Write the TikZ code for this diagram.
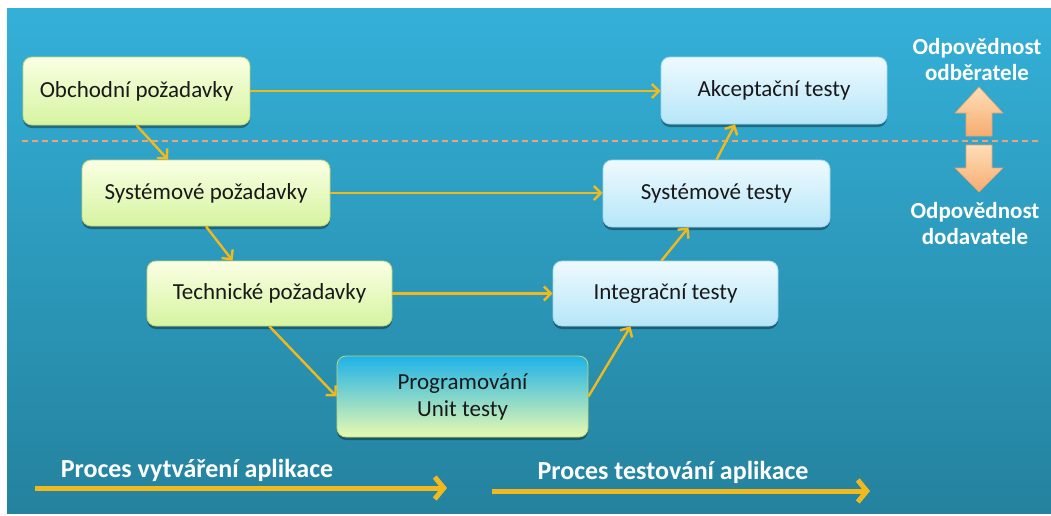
\documentclass[tikz,border=0pt]{standalone}
\usepackage{fontspec}
\setmainfont{Carlito}
\usetikzlibrary{arrows.meta,shadows,calc}
\definecolor{bgtop}{RGB}{52,176,216}
\definecolor{bgbot}{RGB}{36,130,158}
\definecolor{arr}{RGB}{240,186,30}
\definecolor{gtop}{RGB}{250,255,228}
\definecolor{gbot}{RGB}{214,244,160}
\definecolor{gborder}{RGB}{196,214,120}
\definecolor{btop}{RGB}{238,250,255}
\definecolor{bbot}{RGB}{182,230,248}
\definecolor{bborder}{RGB}{160,215,240}
\definecolor{ptop}{RGB}{30,178,232}
\definecolor{pmid}{RGB}{190,236,205}
\definecolor{pbot}{RGB}{232,250,176}
\definecolor{txt}{RGB}{25,25,25}
\definecolor{dashcol}{RGB}{232,165,125}
\definecolor{otop}{RGB}{255,222,184}
\definecolor{obot}{RGB}{246,172,112}
\definecolor{oborder}{RGB}{236,160,100}
\begin{document}
\begin{tikzpicture}[x=1pt,y=-1pt,
  basebox/.style={rounded corners=9pt, line width=0.8pt, align=center, inner sep=0pt,
    text=txt, font=\fontsize{23}{27}\selectfont,
    drop shadow={shadow xshift=0pt, shadow yshift=-3pt, opacity=0.35, fill=black}},
  greenbox/.style={basebox, draw=gborder, top color=gtop, bottom color=gbot},
  bluebox/.style={basebox, draw=bborder, top color=btop, bottom color=bbot},
  progbox/.style={basebox, draw=gborder, top color=ptop, middle color=pmid, bottom color=pbot},
  conn/.style={draw=arr, line width=2.4pt, -{Straight Barb[length=7pt,width=14pt,line width=2.4pt]}},
  bigarrow/.style={draw=arr, line width=5pt, -{Straight Barb[length=9pt,width=22pt,line width=5pt]}},
  sidelabel/.style={text=white, align=center, font=\bfseries\fontsize{23}{26}\selectfont},
  proclabel/.style={text=white, font=\bfseries\fontsize{26}{30}\selectfont},
  blockarrow/.style={draw=oborder, line width=0.6pt, top color=otop, bottom color=obot},
  seprule/.style={draw=dashcol, line width=1.6pt, dash pattern=on 6pt off 4pt}
]
\useasboundingbox (0,0) rectangle (1051,515);
\fill[top color=bgtop, bottom color=bgbot] (7,8) rectangle (1051,513);

% dashed separator
\coordinate (dl) at (22,141);
\coordinate (dr) at (1040,141);
\draw[seprule] (dl) -- (dr);

% nodes
\node[greenbox, minimum width=227pt, minimum height=68pt] (ob) at (136.5,91) {Obchodní požadavky};
\node[bluebox, minimum width=226pt, minimum height=67pt] (ak) at (774,90.5) {Akceptační testy};
\node[greenbox, minimum width=248pt, minimum height=66pt] (sp) at (206,193) {Systémové požadavky};
\node[bluebox, minimum width=227pt, minimum height=67pt] (st) at (716.5,193.5) {Systémové testy};
\node[greenbox, minimum width=245pt, minimum height=65pt] (tp) at (269.5,293.5) {Technické požadavky};
\node[bluebox, minimum width=225pt, minimum height=65pt] (it) at (665.5,293.5) {Integrační testy};
\node[progbox, minimum width=251pt, minimum height=81pt] (pr) at (462.5,396.5) {Programování\\Unit testy};

% connectors
\draw[conn] (ob.east) -- (ob.east -| ak.west);
\draw[conn] (ob.south) -- ([xshift=-38pt]sp.north);
\draw[conn] (sp.east) -- (sp.east -| st.west);
\draw[conn] (sp.south) -- ([xshift=-37pt]tp.north);
\draw[conn] (tp.east) -- (tp.east -| it.west);
\draw[conn] (tp.south) -- (pr.west);
\draw[conn] (pr.east) -- ([xshift=-35pt]it.south);
\draw[conn] ([xshift=-4pt]it.north) -- ([xshift=-28pt]st.south);
\draw[conn] (st.north) -- ([xshift=-39pt]ak.south);

% side labels and block arrows
\node[sidelabel] (odb) at (977,60) {Odpovědnost\\odběratele};
\node[sidelabel] (dod) at (975,224) {Odpovědnost\\dodavatele};
\draw[blockarrow] (979,87) -- (1003,113) -- (992,113) -- (992,136) -- (966,136) -- (966,113) -- (955,113) -- cycle;
\draw[blockarrow] (966,145) -- (992,145) -- (992,168) -- (1003,168) -- (979,192) -- (955,168) -- (966,168) -- cycle;

% process arrows
\node[proclabel] (pv) at (197,470) {Proces vytváření aplikace};
\node[proclabel] (pt) at (673,472) {Proces testování aplikace};
\coordinate (a1s) at (35,488);
\coordinate (a1e) at (447,488);
\coordinate (a2s) at (492,491);
\coordinate (a2e) at (870,491);
\draw[bigarrow] (a1s) -- (a1e);
\draw[bigarrow] (a2s) -- (a2e);
\end{tikzpicture}
\end{document}
